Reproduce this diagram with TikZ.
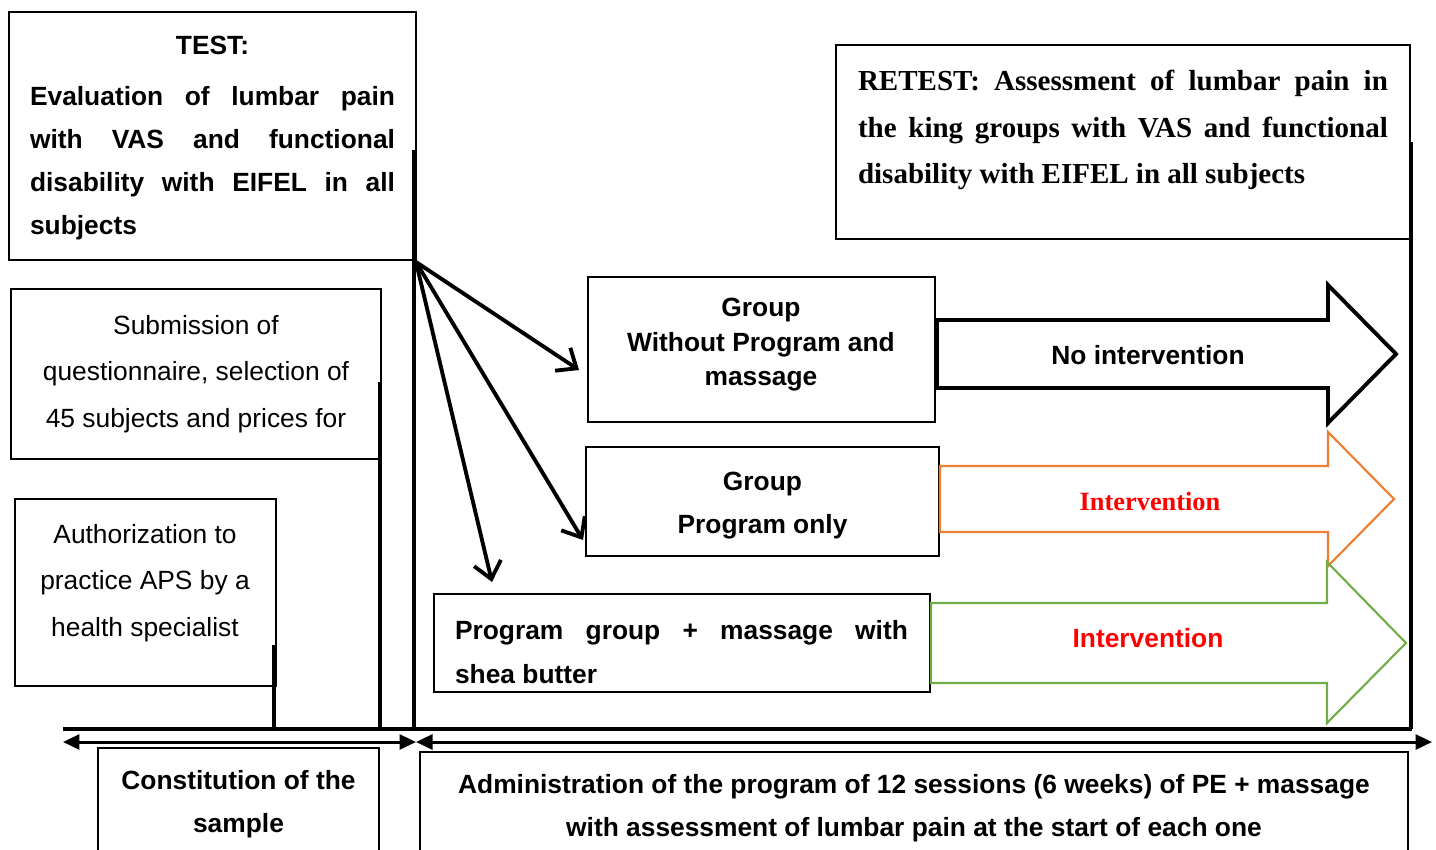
\documentclass[tikz,border=0pt]{standalone}
\usepackage{fontspec}
\setmainfont{Liberation Serif}
\setsansfont{Liberation Sans}
\usetikzlibrary{arrows.meta}
\definecolor{orangeline}{HTML}{ED7D31}
\definecolor{greenline}{HTML}{70AD47}
\newcommand{\jline}[2]{\makebox[#1][s]{#2}}
\begin{document}
\begin{tikzpicture}[
  x=0.02cm, y=-0.02cm,
  box/.style={draw, line width=0.8pt, inner sep=0pt},
  txt/.style={font=\sffamily\fontsize{15}{26.4}\selectfont, align=center},
  btxt/.style={font=\sffamily\bfseries\fontsize{15}{24.4}\selectfont, align=center},
  rtxt/.style={font=\rmfamily\bfseries\fontsize{16.5}{26.4}\selectfont, align=left},
  bar/.style={line width=2.3pt},
  fan/.style={line width=2.2pt, -{Straight Barb[length=3.3mm, width=5.5mm]}},
  span/.style={line width=1.7pt, {Triangle[length=3.3mm, width=3mm]}-{Triangle[length=3.3mm, width=3mm]}},
  blockarrow/.style={line join=miter}
]
\useasboundingbox (0,0) rectangle (1436,849);

% boxes on the left
\node[box, minimum width=8.14cm, minimum height=4.96cm] (test) at (212.5,136) {};
\node[btxt, align=left] (testtxt) at (212.5,138)
  {\makebox[7.3cm]{TEST:}\\[5pt]
   \jline{7.3cm}{Evaluation of lumbar pain}\\
   \jline{7.3cm}{with VAS and functional}\\
   \jline{7.3cm}{disability with EIFEL in all}\\
   subjects};
\node[box, txt, minimum width=7.4cm, minimum height=3.4cm] (subm) at (196,374)
  {Submission of\\questionnaire, selection of\\45 subjects and prices for};
\node[box, minimum width=5.22cm, minimum height=3.74cm] (auth) at (145.5,592.5) {};
\node[txt] (authtxt) at (145,583) {Authorization to\\practice APS by a\\health specialist};

% retest
\node[box, minimum width=11.48cm, minimum height=3.88cm] (retest) at (1123,142) {};
\node[rtxt] (retesttxt) at (1123,130)
  {\jline{10.6cm}{RETEST: Assessment of lumbar pain in}\\
   \jline{10.6cm}{the king groups with VAS and functional}\\
   disability with EIFEL in all subjects};

% groups
\node[box, minimum width=6.94cm, minimum height=2.9cm] (gnone) at (761.5,349.5) {};
\node[btxt, font=\sffamily\bfseries\fontsize{15}{19.6}\selectfont] (gnonetxt) at (761,345)
  {Group\\Without Program and\\massage};
\node[box, minimum width=7.06cm, minimum height=2.18cm] (gprog) at (762.5,501.5) {};
\node[btxt] (gprogtxt) at (762.5,505.5) {Group\\Program only};
\node[box, minimum width=9.92cm, minimum height=1.96cm] (gmass) at (682,643) {};
\node[btxt, align=left, font=\sffamily\bfseries\fontsize{15}{25}\selectfont] (gmasstxt) at (681.5,652)
  {\jline{9.06cm}{Program group + massage with}\\shea butter};

% bottom boxes
\node[box, btxt, minimum width=5.62cm, minimum height=2.24cm] (constit) at (238.5,804)
  {Constitution of the\\sample};
\node[box, minimum width=19.76cm, minimum height=2.16cm] (admin) at (914,806) {};
\node[btxt] (admintxt) at (914,808)
  {Administration of the program of 12 sessions (6 weeks) of PE + massage\\
   with assessment of lumbar pain at the start of each one};

% time lines
\draw[bar] (63,729) -- (1412,729);
\draw[bar] (414,150) -- (414,729);
\draw[bar] (380,382) -- (380,729);
\draw[bar] (274,645) -- (274,731);
\draw[bar] (1411,142) -- (1411,729);
\coordinate (sL) at (63,742);
\coordinate (sM) at (416,742);
\coordinate (sR) at (1432,742);
\draw[span] (sL) -- (sM);
\draw[span] (sM) -- (sR);

% fan of arrows
\coordinate (fan) at (416,262);
\coordinate (f1) at (579,370);
\coordinate (f2) at (583,540);
\coordinate (f3) at (492,582);
\draw[fan] (fan) -- (f1);
\draw[fan] (fan) -- (f2);
\draw[fan] (fan) -- (f3);

% block arrows
\draw[blockarrow, line width=2.2pt] (937,320) -- (1328,320) -- (1328,285) -- (1396,354)
  -- (1328,423) -- (1328,388) -- (937,388) -- cycle;
\draw[blockarrow, line width=1.2pt, orangeline] (940,466) -- (1328,466) -- (1328,432) -- (1394,499)
  -- (1328,566) -- (1328,532) -- (940,532) -- cycle;
\draw[blockarrow, line width=1.2pt, greenline] (931,603) -- (1327,603) -- (1327,562) -- (1406,643)
  -- (1327,723) -- (1327,683) -- (931,683) -- cycle;
\node[btxt] (noint) at (1148,355) {No intervention};
\node[font=\rmfamily\bfseries\fontsize{15}{18}\selectfont, text=red] (int1) at (1150,501) {Intervention};
\node[btxt, text=red] (int2) at (1148,638) {Intervention};
\end{tikzpicture}
\end{document}
